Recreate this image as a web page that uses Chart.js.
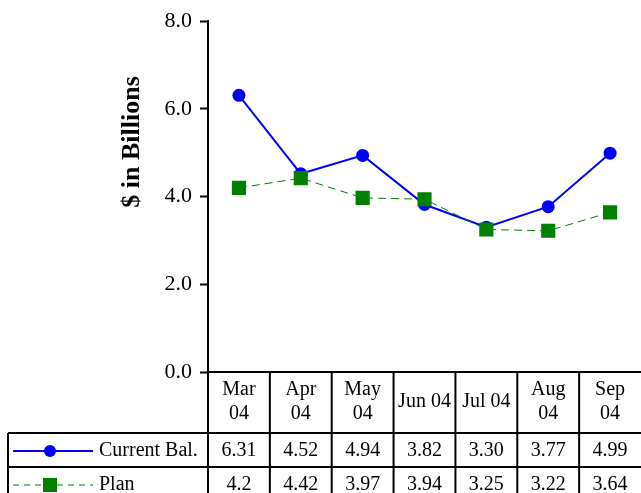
<!DOCTYPE html>
<html>
<head>
<meta charset="utf-8">
<script src="https://cdn.jsdelivr.net/npm/chart.js@4/dist/chart.umd.min.js"></script>
<style>
  body { margin: 0; background: #fff; }
  #wrap { width: 641px; height: 493px; }
</style>
</head>
<body>
<div id="wrap"><canvas id="lineCanvas" width="641" height="493"></canvas></div>
<script>
// chart data
var months = [['Mar', '04'], ['Apr', '04'], ['May', '04'], 'Jun 04', 'Jul 04', ['Aug', '04'], ['Sep', '04']];
var currentBal = [6.31, 4.52, 4.94, 3.82, 3.30, 3.77, 4.99];
var plan = [4.2, 4.42, 3.97, 3.94, 3.25, 3.22, 3.64];
var yTicks = [0, 2, 4, 6, 8];

var FONT = '"Liberation Serif", "Times New Roman", serif';

// rows of the data table under the chart (same order as in the picture)
var tableRows = [
  { name: 'Current Bal.', values: currentBal, fmt: function (v) { return v.toFixed(2); }, color: '#0000ff', dash: [], marker: 'circle' },
  { name: 'Plan', values: plan, fmt: function (v) { return String(v); }, color: '#008000', dash: [6, 5], marker: 'rect' }
];

var tablePlugin = {
  id: 'dataTable',
  afterDraw: function (chart) {
    var ctx = chart.ctx;
    var area = chart.chartArea;
    var x = chart.scales.x;
    var colW = (x.getPixelForValue(1) - x.getPixelForValue(0));
    var top = area.bottom;
    var headBottom = top + 61;
    var rowH = 34;
    var left = 8;
    var right = area.right;

    ctx.save();
    ctx.strokeStyle = '#000';
    ctx.lineWidth = 2;

    // header row
    ctx.beginPath();
    ctx.moveTo(area.left, top);
    ctx.lineTo(right, top);
    ctx.moveTo(area.left, top);
    ctx.lineTo(area.left, chart.height);
    // the last column's right border falls off the picture
    for (var i = 0; i < months.length - 1; i++) {
      var xr = x.getPixelForValue(i) + colW / 2;
      ctx.moveTo(xr, top);
      ctx.lineTo(xr, chart.height);
    }
    // body rows
    ctx.moveTo(left, headBottom);
    ctx.lineTo(right, headBottom);
    ctx.moveTo(left, headBottom + rowH);
    ctx.lineTo(right, headBottom + rowH);
    ctx.moveTo(left, headBottom);
    ctx.lineTo(left, chart.height);
    ctx.stroke();

    ctx.fillStyle = '#000';
    ctx.font = '20px ' + FONT;
    ctx.textAlign = 'center';
    ctx.textBaseline = 'middle';
    months.forEach(function (m, i) {
      var cx = x.getPixelForValue(i);
      if (Array.isArray(m)) {
        ctx.fillText(m[0], cx, top + 18);
        ctx.fillText(m[1], cx, top + 42);
      } else {
        ctx.fillText(m, cx, top + 30);
      }
    });

    tableRows.forEach(function (row, r) {
      var cy = headBottom + rowH * r + rowH / 2 + 1;
      row.values.forEach(function (v, i) {
        ctx.fillStyle = '#000';
        ctx.fillText(row.fmt(v), x.getPixelForValue(i), cy);
      });
      // legend key
      ctx.strokeStyle = row.color;
      ctx.fillStyle = row.color;
      ctx.lineWidth = row.marker === 'circle' ? 2 : 1;
      ctx.setLineDash(row.dash);
      ctx.beginPath();
      ctx.moveTo(13, cy);
      ctx.lineTo(93, cy);
      ctx.stroke();
      ctx.setLineDash([]);
      ctx.beginPath();
      if (row.marker === 'circle') {
        ctx.arc(50, cy, 6, 0, Math.PI * 2);
      } else {
        ctx.rect(43, cy - 7, 14, 14);
      }
      ctx.fill();
      ctx.fillStyle = '#000';
      ctx.textAlign = 'left';
      ctx.fillText(row.name, 99, cy);
      ctx.textAlign = 'center';
    });

    // axis title
    ctx.translate(132, 142);
    ctx.rotate(-Math.PI / 2);
    ctx.font = 'bold 26px ' + FONT;
    ctx.fillStyle = '#000';
    ctx.fillText('$ in Billions', 0, 0);
    ctx.restore();
  }
};

var ctx = document.getElementById('lineCanvas').getContext('2d');
var lineChart = new Chart(ctx, {
  type: 'line',
  data: {
    labels: months,
    datasets: [{
      // drawn on top of the blue line, like the reference
      label: 'Plan',
      data: plan,
      borderColor: '#008000',
      backgroundColor: '#008000',
      borderWidth: 1,
      borderDash: [8, 5],
      pointStyle: 'rect',
      pointRadius: 10,
      pointBorderWidth: 0,
      tension: 0
    },
    {
      label: 'Current Bal.',
      data: currentBal,
      borderColor: '#0000ff',
      backgroundColor: '#0000ff',
      borderWidth: 2,
      pointStyle: 'circle',
      pointRadius: 6.5,
      pointBorderWidth: 0,
      tension: 0
    }]
  },
  options: {
    responsive: false,
    animation: false,
    layout: { autoPadding: false, padding: { top: 18, right: 0, bottom: 121, left: 0 } },
    plugins: {
      legend: { display: false },
      tooltip: { enabled: false }
    },
    scales: {
      x: {
        display: false,
        offset: true
      },
      y: {
        min: 0,
        max: 8,
        afterFit: function (scale) { scale.width = 208; },
        afterBuildTicks: function (scale) {
          scale.ticks = yTicks.map(function (v) { return { value: v }; });
        },
        ticks: {
          color: '#000',
          font: { family: FONT, size: 22 },
          padding: 8,
          callback: function (v) { return Number(v).toFixed(1); }
        },
        grid: {
          drawOnChartArea: false,
          tickLength: 8,
          tickWidth: 2,
          color: '#000'
        },
        border: { display: true, color: '#000', width: 2 }
      }
    }
  },
  plugins: [tablePlugin]
});
</script>
</body>
</html>
